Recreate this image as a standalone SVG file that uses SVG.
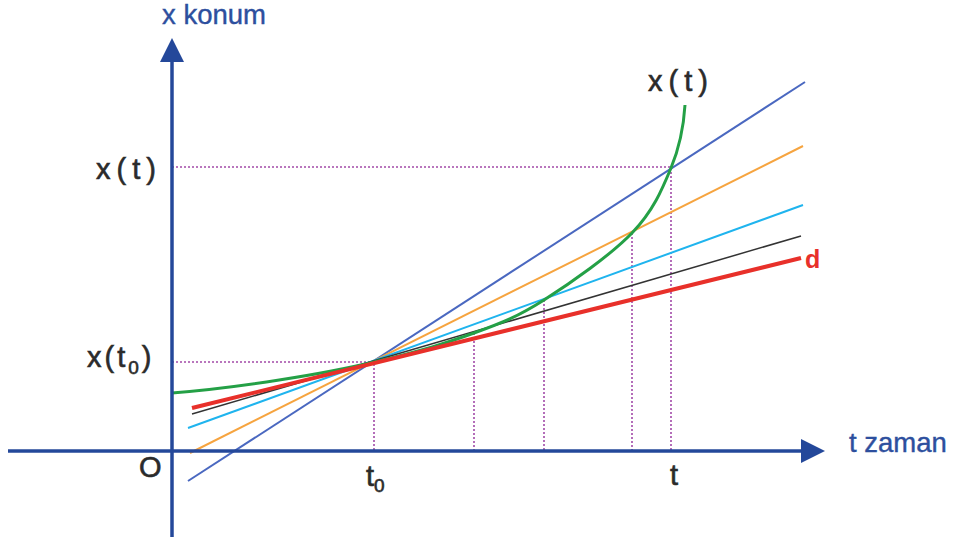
<svg xmlns="http://www.w3.org/2000/svg" width="953" height="537" viewBox="0 0 953 537">
<style>
.ax{stroke:#24489a;stroke-width:3.5;fill:none}
.dot{stroke:#a24aa8;stroke-width:1.6;stroke-dasharray:2 2;fill:none}
.lbl{font-family:"Liberation Sans",Arial,sans-serif;fill:#2b2b2b;stroke:#2b2b2b;stroke-width:0.6;font-size:29px}
.blu{font-family:"Liberation Sans",Arial,sans-serif;fill:#2d4f9e;stroke:#2d4f9e;stroke-width:0.4;font-size:27.5px}
</style>
<rect width="953" height="537" fill="#fff"/>
<g id="guides">
<path class="dot" d="M172 362H374V452M172 167H671V452M474 333V452M544 300V452M632 233V452"/>
</g>
<g id="lines" fill="none" stroke-linecap="butt">
<line x1="188" y1="481" x2="805" y2="82" stroke="#4a68c0" stroke-width="2"/>
<line x1="190" y1="453" x2="803" y2="146" stroke="#f6a43f" stroke-width="2"/>
<line x1="188" y1="428" x2="803" y2="205" stroke="#1fb4ee" stroke-width="2"/>
<line x1="192" y1="414" x2="801" y2="236" stroke="#333" stroke-width="1.5"/>
<path d="M172 393C238.7 387.7 323.7 374 374 362C424.3 350 445.7 343.3 474 333C502.3 322.7 517.7 316.7 544 300C570.3 283.3 610.8 255 632 233C653.2 211 662.2 189.3 671 168C679.8 146.7 683.7 126 685 105" stroke="#24a046" stroke-width="3"/>
<line x1="192" y1="408" x2="801" y2="258" stroke="#e8302a" stroke-width="4"/>
</g>
<g id="axes">
<line class="ax" x1="172" y1="537" x2="172" y2="60"/>
<polygon points="172,38 160,62 184,62" fill="#24489a"/>
<line class="ax" x1="8" y1="451" x2="803" y2="451"/>
<polygon points="825,451 801,439 801,463" fill="#24489a"/>
</g>
<g id="labels">
<text class="blu" x="162" y="24">x konum</text>
<text class="blu" x="849" y="452">t zaman</text>
<text class="lbl" x="96" y="179" letter-spacing="6">x(t)</text>
<text class="lbl" x="87" y="367" letter-spacing="3">x(t<tspan font-size="19" dy="7">0</tspan><tspan dy="-7">)</tspan></text>
<text class="lbl" x="139" y="477" font-size="24">O</text>
<text class="lbl" x="366" y="486">t<tspan font-size="19" dy="6">0</tspan></text>
<text class="lbl" x="670" y="485">t</text>
<text class="lbl" x="648" y="91" letter-spacing="6">x(t)</text>
<text x="805" y="268" font-family="Liberation Sans,Arial,sans-serif" font-size="25" font-weight="bold" fill="#e8302a">d</text>
</g>
</svg>
